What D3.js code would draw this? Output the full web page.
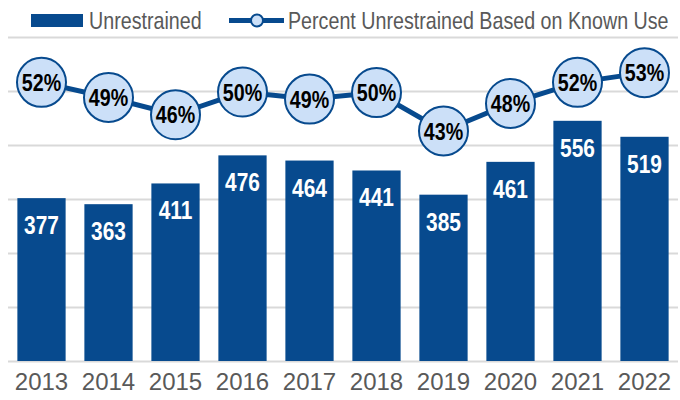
<!DOCTYPE html>
<html>
<head>
<meta charset="utf-8">
<script src="https://cdn.jsdelivr.net/npm/d3@7"></script>
<style>
  body { margin: 0; background: #fff; }
  svg { display: block; font-family: 'Liberation Sans', Arial, sans-serif; }
</style>
</head>
<body>
<svg></svg>
<script>

let years = ['2013', '2014', '2015', '2016', '2017', '2018', '2019', '2020', '2021', '2022']
let unrestrained = [377, 363, 411, 476, 464, 441, 385, 461, 556, 519]
// share of unrestrained among known use (labels are rounded)
let percentUnrestrained = [0.516, 0.488, 0.456, 0.498, 0.485, 0.497, 0.426, 0.477, 0.516, 0.534]
let barTicks = [0, 125, 250, 375, 500, 625, 750]

let width = 680,
    height = 400

let svg = d3.select('svg').attr('width', width).attr('height', height)

let dark = '#074a8e',
    light = '#cce0f8',
    grid = '#d9d9d9',
    textGrey = '#595959'

// no narrow font installed, so squeeze Liberation Sans
let narrow = 'scale(0.82,1)'

let plotLeft = 8, plotRight = 678, plotTop = 37, plotBottom = 361

let x = d3.scaleBand()
  .domain(years)
  .range([plotLeft, plotRight])
  .paddingInner(0.28)
  .paddingOuter(0.14)

let y = d3.scaleLinear().domain([0, 750]).range([plotBottom, plotTop])
let yPct = d3.scaleLinear().domain([0, 0.6]).range([plotBottom, plotTop])

let cx = function(i) { return x(years[i]) + x.bandwidth() / 2 }

// gridlines
let gridAxis = svg.append('g')
  .attr('transform', 'translate(' + plotLeft + ',0)')
  .call(d3.axisLeft(y).tickValues(barTicks).tickSize(-(plotRight - plotLeft)).tickFormat(''))
gridAxis.select('.domain').remove()
gridAxis.selectAll('line').attr('stroke', grid).attr('stroke-width', 2)

// bars
svg.append('g')
  .selectAll('rect')
  .data(unrestrained)
  .enter().append('rect')
  .attr('x', function(d, i) { return x(years[i]) })
  .attr('y', function(d) { return y(d) })
  .attr('width', x.bandwidth())
  .attr('height', function(d) { return plotBottom - y(d) })
  .attr('fill', dark)

svg.append('g')
  .selectAll('g')
  .data(unrestrained)
  .enter().append('g')
  .attr('transform', function(d, i) { return 'translate(' + cx(i) + ',' + (y(d) + 36) + ')' })
  .append('text')
  .attr('transform', narrow)
  .attr('text-anchor', 'middle')
  .attr('font-size', 25.5)
  .attr('font-weight', 'bold')
  .attr('fill', '#fff')
  .text(function(d) { return d })

// x axis labels
let xAxis = svg.append('g')
  .attr('transform', 'translate(0,' + plotBottom + ')')
  .call(d3.axisBottom(x).tickSize(0))
xAxis.select('.domain').remove()
xAxis.attr('font-family', null)
xAxis.selectAll('text')
  .attr('y', 29)
  .attr('dy', null)
  .attr('font-size', 24)
  .attr('fill', textGrey)

// percent line
let line = d3.line()
  .x(function(d, i) { return cx(i) })
  .y(function(d) { return yPct(d) })

svg.append('path')
  .datum(percentUnrestrained)
  .attr('d', line)
  .attr('fill', 'none')
  .attr('stroke', dark)
  .attr('stroke-width', 5)

let dots = svg.append('g')
  .selectAll('g')
  .data(percentUnrestrained)
  .enter().append('g')
  .attr('transform', function(d, i) { return 'translate(' + cx(i) + ',' + yPct(d) + ')' })

dots.append('circle')
  .attr('r', 24.5)
  .attr('fill', light)
  .attr('stroke', dark)
  .attr('stroke-width', 2)

dots.append('text')
  .attr('transform', narrow)
  .attr('text-anchor', 'middle')
  .attr('dy', '0.36em')
  .attr('font-size', 24)
  .attr('font-weight', 'bold')
  .attr('fill', '#000')
  .text(function(d) { return d3.format('.0%')(d) })

// legend
let legend = svg.append('g').attr('font-size', 24).attr('fill', textGrey)

legend.append('rect')
  .attr('x', 31).attr('y', 14)
  .attr('width', 52).attr('height', 13)
  .attr('fill', dark)

legend.append('g')
  .attr('transform', 'translate(89,28.5)')
  .append('text')
  .attr('transform', narrow)
  .text('Unrestrained')

legend.append('line')
  .attr('x1', 229).attr('x2', 284)
  .attr('y1', 20.5).attr('y2', 20.5)
  .attr('stroke', dark)
  .attr('stroke-width', 5)

legend.append('circle')
  .attr('cx', 257).attr('cy', 20.5)
  .attr('r', 6)
  .attr('fill', light)
  .attr('stroke', dark)
  .attr('stroke-width', 2)

legend.append('g')
  .attr('transform', 'translate(288,28.5)')
  .append('text')
  .attr('transform', narrow)
  .text('Percent Unrestrained Based on Known Use')

</script>
</body>
</html>
